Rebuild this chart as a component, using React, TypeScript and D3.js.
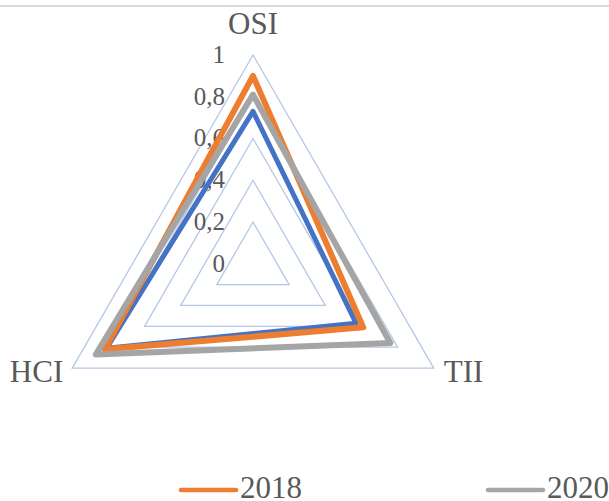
import React from "react";
import * as d3 from "d3";

// Radar axes, clockwise from the top
const axes = ["OSI", "TII", "HCI"];
const ticks = [0, 0.2, 0.4, 0.6, 0.8, 1];
const tickLabels = ["0", "0,2", "0,4", "0,6", "0,8", "1"];

const seriesNames = ["2016", "2018", "2020"];
const values2016 = [0.73, 0.57, 0.81];
const values2018 = [0.9, 0.61, 0.82];
const values2020 = [0.81, 0.76, 0.87];
const seriesColors = ["#4472C4", "#ED7D31", "#A5A5A5"];
const seriesWidths = [5, 6, 6];
const legendShown = ["2018", "2020"];

const W = 609;
const H = 501;
const cx = 253;
const cy = 263.7;
const R = 208.7;
const font = "'Liberation Serif', 'Times New Roman', serif";
const textColor = "#595959";

export default function App() {
  const r = d3.scaleLinear().domain([0, 1]).range([0, R]);
  const angle = d3
    .scalePoint<string>()
    .domain(axes)
    .range([0, (2 * Math.PI * (axes.length - 1)) / axes.length]);

  const radial = d3
    .lineRadial<number>()
    .angle((_, i) => angle(axes[i]) as number)
    .radius((v) => r(v))
    .curve(d3.curveLinearClosed);

  const pt = (a: string, v: number) => {
    const t = angle(a) as number;
    return [cx + r(v) * Math.sin(t), cy - r(v) * Math.cos(t)];
  };

  const allValues = [values2016, values2018, values2020];

  const legendX = d3.scalePoint<string>().domain(legendShown).range([181, 488]);

  return (
    <svg
      width={W}
      height={H}
      style={{ position: "absolute", left: 0, top: 0, background: "#fff" }}
    >
      <line x1={0} x2={W} y1={6} y2={6} stroke="#d9d9d9" strokeWidth={2} />

      {/* grid triangles */}
      <g transform={`translate(${cx},${cy})`}>
        {ticks
          .filter((t) => t > 0)
          .map((t) => (
            <path
              key={t}
              d={radial(axes.map(() => t)) || ""}
              fill="none"
              stroke="#B4C7E7"
              strokeWidth={1.3}
            />
          ))}
      </g>

      {/* tick labels along the top axis */}
      {ticks.map((t, i) => (
        <text
          key={t}
          x={cx - 28}
          y={cy - r(t) + 8}
          textAnchor="end"
          fontFamily={font}
          fontSize={25}
          fill={textColor}
        >
          {tickLabels[i]}
        </text>
      ))}

      {/* series */}
      <g transform={`translate(${cx},${cy})`}>
        {allValues.map((vals, si) => (
          <path
            key={seriesNames[si]}
            d={radial(vals) || ""}
            fill="none"
            stroke={seriesColors[si]}
            strokeWidth={seriesWidths[si]}
            strokeLinejoin="round"
          />
        ))}
      </g>

      {/* axis labels */}
      {axes.map((a) => {
        const [x, y] = pt(a, 1);
        const t = angle(a) as number;
        const s = Math.sin(t);
        let anchor = "middle";
        let lx = x;
        let ly = y - 21;
        if (s > 0.1) {
          anchor = "start";
          lx = x + 10;
          ly = y + 14;
        } else if (s < -0.1) {
          anchor = "end";
          lx = x - 9;
          ly = y + 14;
        }
        return (
          <text
            key={a}
            x={lx}
            y={ly}
            textAnchor={anchor}
            fontFamily={font}
            fontSize={31}
            fill={textColor}
          >
            {a}
          </text>
        );
      })}

      {/* legend */}
      {legendShown.map((name) => {
        const si = seriesNames.indexOf(name);
        const x = legendX(name) as number;
        return (
          <g key={name}>
            <line
              x1={x}
              x2={x + 55}
              y1={490}
              y2={490}
              stroke={seriesColors[si]}
              strokeWidth={4.5}
              strokeLinecap="round"
            />
            <text
              x={x + 59}
              y={498}
              fontFamily={font}
              fontSize={31}
              fill={textColor}
            >
              {name}
            </text>
          </g>
        );
      })}
    </svg>
  );
}
